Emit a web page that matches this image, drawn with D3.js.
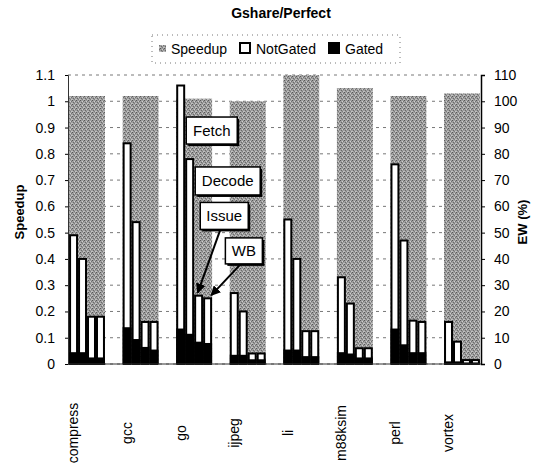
<!DOCTYPE html>
<html lang="en">
<head>
    <meta charset="UTF-8">
    <title>Gshare/Perfect</title>
    <script src="https://cdn.jsdelivr.net/npm/d3@7"></script>
    <style>
        body { margin: 0; background: #fff; }
        text { font-family: "Liberation Sans", Arial, sans-serif; fill: #000; }
    </style>
</head>
<body>

<div id="chart"></div>

<script>
    // benchmarks and pipeline stages
    const categories = ["compress", "gcc", "go", "ijpeg", "li", "m88ksim", "perl", "vortex"]
    const stages = ["Fetch", "Decode", "Issue", "WB"]

    // speedup (left axis)
    const speedup = [1.02, 1.02, 1.01, 1.00, 1.10, 1.05, 1.02, 1.03]

    // EW (%) total = NotGated bar height, Gated = black part (right axis)
    const notGated = [
        [49, 40, 18, 18],
        [84, 54, 16, 16],
        [106, 78, 26, 25],
        [27, 20, 4, 4],
        [55, 40, 12.5, 12.5],
        [33, 23, 6, 6],
        [76, 47, 16.5, 16],
        [16, 8.5, 1.5, 1.5]
    ]
    const gated = [
        [4.5, 4.5, 2.5, 2.5],
        [14, 9.5, 6.5, 5.5],
        [13.5, 11.5, 8.5, 8],
        [3.5, 3.5, 1.8, 1.8],
        [5.5, 5.5, 3, 3],
        [4.5, 4, 2.5, 2.5],
        [13.5, 7.5, 4.5, 4.5],
        [1, 1, 0.6, 0.6]
    ]

    const leftTicks = [0, 0.1, 0.2, 0.3, 0.4, 0.5, 0.6, 0.7, 0.8, 0.9, 1, 1.1]
    const rightTicks = [0, 10, 20, 30, 40, 50, 60, 70, 80, 90, 100, 110]
    const legendItems = ["Speedup", "NotGated", "Gated"]

    // callouts on the go bars: box top-left in (band fraction, EW value)
    const callouts = [
        {label: "Fetch",  cat: "go", bx: 0.28, ew: 94,   w: 51, h: 27, arrow: null},
        {label: "Decode", cat: "go", bx: 0.53, ew: 75,   w: 65, h: 28, arrow: null},
        {label: "Issue",  cat: "go", bx: 0.67, ew: 61.5, w: 48, h: 27, arrow: "Issue"},
        {label: "WB",     cat: "go", bx: 1.37, ew: 48,   w: 37, h: 26, arrow: "WB"}
    ]

    const W = 540, H = 470
    const svg = d3.select("#chart").append("svg")
        .attr("width", W)
        .attr("height", H)

    const defs = svg.append("defs")
    const pat = defs.append("pattern")
        .attr("id", "speckle")
        .attr("width", 4).attr("height", 4)
        .attr("patternUnits", "userSpaceOnUse")
    pat.append("rect").attr("width", 4).attr("height", 4).attr("fill", "#9e9e9e")
    const specks = [[0, 0, "#585858"], [2, 1, "#cfcfcf"], [1, 2, "#6a6a6a"], [3, 3, "#c4c4c4"], [3, 1, "#747474"], [0, 3, "#bdbdbd"], [2, 3, "#7c7c7c"]]
    pat.selectAll("rect.s").data(specks).enter().append("rect")
        .attr("class", "s")
        .attr("x", d => d[0]).attr("y", d => d[1])
        .attr("width", 1).attr("height", 1)
        .attr("fill", d => d[2])

    const x = d3.scaleBand(categories, [68, 481]).paddingInner(0.33).paddingOuter(0.02)
    const xs = d3.scaleBand(stages, [0, x.bandwidth()])
    const yL = d3.scaleLinear([0, 1.1], [364, 75])
    const yR = d3.scaleLinear([0, 110], [364, 75])

    // title
    svg.append("text")
        .attr("x", 281).attr("y", 18)
        .attr("text-anchor", "middle")
        .style("font-size", "14px").style("font-weight", "bold")
        .text("Gshare/Perfect")

    // legend
    const lg = svg.append("g")
    lg.append("rect")
        .attr("x", 152).attr("y", 35).attr("width", 248).attr("height", 28)
        .attr("fill", "none").attr("stroke", "#777").attr("stroke-dasharray", "1,4")
    const lgX = [158, 240, 329]
    lg.selectAll("rect.sw").data(legendItems).enter().append("rect")
        .attr("class", "sw")
        .attr("x", (d, i) => lgX[i] + (i == 0 ? 1 : 0))
        .attr("y", (d, i) => i == 0 ? 45 : 43)
        .attr("width", (d, i) => i == 0 ? 7 : 10)
        .attr("height", (d, i) => i == 0 ? 7 : 10)
        .attr("fill", (d, i) => i == 0 ? "url(#speckle)" : i == 1 ? "#fff" : "#000")
        .attr("stroke", (d, i) => i == 0 ? "none" : "#000")
        .attr("stroke-width", 2)
    lg.selectAll("text").data(legendItems).enter().append("text")
        .attr("x", (d, i) => lgX[i] + (i == 0 ? 13 : 16))
        .attr("y", 49).attr("dy", "0.35em")
        .style("font-size", "14px")
        .text(d => d)

    // gridlines
    svg.append("g")
        .selectAll("line")
        .data(leftTicks)
        .enter().append("line")
        .attr("x1", 68).attr("x2", 481)
        .attr("y1", d => yL(d)).attr("y2", d => yL(d))
        .attr("stroke", "#555").attr("stroke-width", 0.8)
        .attr("stroke-dasharray", "3,4")

    // speedup bars
    svg.append("g")
        .selectAll("rect")
        .data(categories)
        .enter().append("rect")
        .attr("x", d => x(d))
        .attr("y", (d, i) => yL(speedup[i]))
        .attr("width", x.bandwidth())
        .attr("height", (d, i) => yL(0) - yL(speedup[i]))
        .attr("fill", "url(#speckle)")

    // EW bars
    const ew = []
    categories.forEach((c, i) => stages.forEach((s, j) => {
        ew.push({cat: c, stage: s, total: notGated[i][j], gated: gated[i][j]})
    }))
    const bars = svg.append("g")
    bars.selectAll("rect.ng").data(ew).enter().append("rect")
        .attr("class", "ng")
        .attr("x", d => x(d.cat) + xs(d.stage) + 1)
        .attr("y", d => yR(d.total))
        .attr("width", xs.bandwidth() - 2)
        .attr("height", d => yR(0) - yR(d.total))
        .attr("fill", "#fff").attr("stroke", "#000").attr("stroke-width", 2)
    bars.selectAll("rect.g").data(ew).enter().append("rect")
        .attr("class", "g")
        .attr("x", d => x(d.cat) + xs(d.stage))
        .attr("y", d => yR(d.gated))
        .attr("width", xs.bandwidth())
        .attr("height", d => yR(0) - yR(d.gated))
        .attr("fill", "#000")

    // axes
    svg.append("g")
        .attr("transform", "translate(68,0)")
        .call(d3.axisLeft(yL).tickValues(leftTicks).tickSize(3).tickFormat(d3.format("~g")))
        .call(g => g.select(".domain").attr("stroke", "#333"))
        .call(g => g.selectAll(".tick text").attr("x", -13).style("font-size", "14px"))
    svg.append("g")
        .attr("transform", "translate(481,0)")
        .call(d3.axisRight(yR).tickValues(rightTicks).tickSize(4))
        .call(g => g.select(".domain").attr("stroke", "#000").attr("stroke-width", 1.5))
        .call(g => g.selectAll(".tick text").attr("x", 13).style("font-size", "14px"))
    svg.append("line")
        .attr("x1", 68).attr("x2", 481)
        .attr("y1", yL(0)).attr("y2", yL(0))
        .attr("stroke", "#333").attr("stroke-width", 1)

    // axis titles
    svg.append("text")
        .attr("transform", "translate(24,212) rotate(-90)")
        .attr("text-anchor", "middle")
        .style("font-size", "13px").style("font-weight", "bold")
        .text("Speedup")
    svg.append("text")
        .attr("transform", "translate(527,222) rotate(-90)")
        .attr("text-anchor", "middle")
        .style("font-size", "13px").style("font-weight", "bold")
        .text("EW (%)")

    // category labels
    svg.append("g")
        .selectAll("text")
        .data(categories)
        .enter().append("text")
        .attr("transform", d => "translate(" + (x(d) + xs.bandwidth() / 2) + ",433) rotate(-90)")
        .attr("text-anchor", "middle")
        .attr("dy", "0.35em")
        .style("font-size", "14px")
        .text(d => d)

    // callouts
    defs.append("marker")
        .attr("id", "head")
        .attr("viewBox", "0 0 10 10")
        .attr("refX", 9).attr("refY", 5)
        .attr("markerWidth", 5).attr("markerHeight", 5)
        .attr("orient", "auto")
        .append("path").attr("d", "M0,0L10,5L0,10z").attr("fill", "#000")

    const cg = svg.append("g")
    callouts.forEach(c => {
        const bx = x(c.cat) + c.bx * x.bandwidth()
        const by = yR(c.ew)
        if (c.arrow) {
            const row = ew.find(d => d.cat == c.cat && d.stage == c.arrow)
            const tx = x(c.cat) + xs(c.arrow) + xs.bandwidth() * (c.arrow == "WB" ? 0.9 : 0.4)
            cg.append("line")
                .attr("x1", bx + c.w * 0.42).attr("y1", by + c.h)
                .attr("x2", tx).attr("y2", yR(row.total) - 3)
                .attr("stroke", "#000").attr("stroke-width", 2)
                .attr("marker-end", "url(#head)")
        }
        cg.append("rect")
            .attr("x", bx + 2).attr("y", by + 2)
            .attr("width", c.w).attr("height", c.h)
            .attr("fill", "#000")
        cg.append("rect")
            .attr("x", bx).attr("y", by)
            .attr("width", c.w).attr("height", c.h)
            .attr("fill", "#fff").attr("stroke", "#000").attr("stroke-width", 1.5)
        cg.append("text")
            .attr("x", bx + c.w / 2).attr("y", by + c.h / 2)
            .attr("dy", "0.36em")
            .attr("text-anchor", "middle")
            .style("font-size", "15px")
            .text(c.label)
    })
</script>

</body>
</html>
